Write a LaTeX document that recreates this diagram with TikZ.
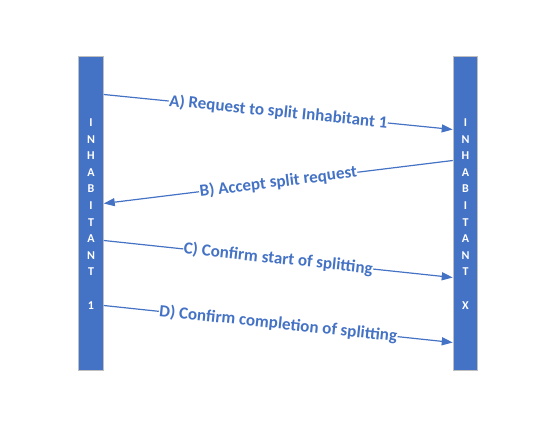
\documentclass[tikz,border=0pt]{standalone}
\usepackage{fontspec}
\setmainfont{Carlito}
\usetikzlibrary{arrows.meta,calc}
\definecolor{bluebar}{HTML}{4472C4}
\definecolor{barline}{HTML}{BFBFBF}
\definecolor{msgblue}{HTML}{4472C4}
\begin{document}
\begin{tikzpicture}[x=1pt,y=-1pt,
  bar/.style={draw=barline,line width=1pt,fill=bluebar,minimum width=24.5pt,minimum height=314pt,inner sep=0pt},
  bartext/.style={text=white,font=\bfseries\fontsize{12}{16.6}\selectfont,align=center,inner sep=0pt},
  msg/.style={draw=msgblue,line width=1.2pt,-{Triangle[length=11pt,width=8pt]}},
  lbl/.style={fill=white,text=msgblue,font=\bfseries\fontsize{17}{19}\selectfont,inner sep=0.5pt,sloped,midway}]
\useasboundingbox (0,0) rectangle (550,425);
\node[bar] (L) at (91,214) {};
\node[bar] (R) at (465.5,214) {};
\node[bartext] (Lt) at (L.center) {I\\N\\H\\A\\B\\I\\T\\A\\N\\T\\[16.6pt]1};
\node[bartext] (Rt) at (R.center) {I\\N\\H\\A\\B\\I\\T\\A\\N\\T\\[16.6pt]X};
\draw[msg] ($(L.north east)+(0,38)$) -- ($(R.north west)+(0,73)$)
  node[lbl] {A) Request to split Inhabitant 1};
\draw[msg] ($(R.north west)+(0,104)$) -- ($(L.north east)+(0,147)$)
  node[lbl] {B) Accept split request};
\draw[msg] ($(L.north east)+(0,184)$) -- ($(R.north west)+(0,221)$)
  node[lbl] {C) Confirm start of splitting};
\draw[msg] ($(L.north east)+(0,249)$) -- ($(R.north west)+(0,286)$)
  node[lbl] {D) Confirm completion of splitting};
\end{tikzpicture}
\end{document}
